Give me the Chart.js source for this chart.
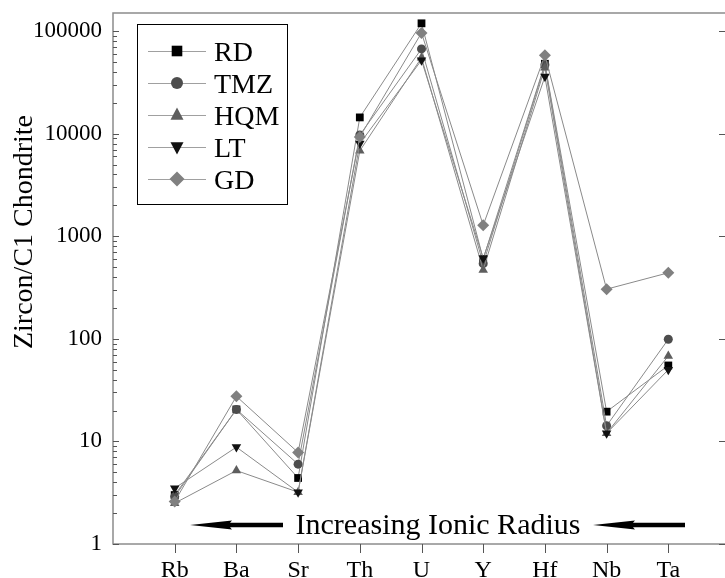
<!DOCTYPE html>
<html>
<head>
<meta charset="utf-8">
<script src="https://cdn.jsdelivr.net/npm/chart.js@4/dist/chart.umd.min.js"></script>
<style>
  html, body { margin: 0; padding: 0; background: #fff; overflow: hidden; }
  #wrap { width: 725px; height: 578px; overflow: hidden; }
</style>
</head>
<body>
<div id="wrap"><canvas id="chart" width="732" height="578"></canvas></div>
<script>
// elements, left to right
const categories = ['Rb', 'Ba', 'Sr', 'Th', 'U', 'Y', 'Hf', 'Nb', 'Ta'];

// zircon / C1 chondrite values
const rdValues  = [3.0, 20.5, 4.4, 14400, 119000, 600, 48000, 19.5, 55];
const tmzValues = [2.9, 20.5, 6.0, 9700, 67000, 540, 47000, 14.2, 99];
const hqmValues = [2.5, 5.2, 3.2, 6800, 55000, 470, 44000, 12.0, 68];
const ltValues  = [3.5, 8.8, 3.2, 8000, 52000, 610, 36000, 12.0, 50];
const gdValues  = [2.6, 27.5, 7.8, 9300, 96000, 1280, 58000, 305, 440];

const yTicks = [1, 10, 100, 1000, 10000, 100000];

const serif = "'Liberation Serif', 'DejaVu Serif', serif";
Chart.defaults.font.family = serif;
Chart.defaults.color = '#000';

const series = [
  { label: 'RD',  data: rdValues,  style: 'rect',     color: '#000',    rot: 0,   r: 5.5, order: 5 },
  { label: 'TMZ', data: tmzValues, style: 'circle',   color: '#4d4d4d', rot: 0,   r: 4.5, order: 4 },
  { label: 'HQM', data: hqmValues, style: 'triangle', color: '#5e5e5e', rot: 0,   r: 5.5, order: 3 },
  { label: 'LT',  data: ltValues,  style: 'triangle', color: '#111',    rot: 180, r: 5.5, order: 2 },
  { label: 'GD',  data: gdValues,  style: 'rectRot',  color: '#808080', rot: 0,   r: 6,   order: 1 }
];

// legend marker, same shapes as chart points
function drawMarker(ctx, style, x, y, r, color, rot) {
  ctx.save();
  ctx.translate(x, y);
  ctx.rotate(rot * Math.PI / 180);
  ctx.fillStyle = color;
  ctx.beginPath();
  if (style === 'rect') {
    const s = r * Math.SQRT1_2;
    ctx.rect(-s, -s, 2 * s, 2 * s);
  } else if (style === 'circle') {
    ctx.arc(0, 0, r, 0, Math.PI * 2);
  } else if (style === 'triangle') {
    ctx.moveTo(0, -r);
    ctx.lineTo(r * 0.866, r * 0.5 + 1);
    ctx.lineTo(-r * 0.866, r * 0.5 + 1);
  } else if (style === 'rectRot') {
    ctx.moveTo(0, -r); ctx.lineTo(r, 0); ctx.lineTo(0, r); ctx.lineTo(-r, 0);
  }
  ctx.closePath();
  ctx.fill();
  ctx.restore();
}

function arrowLeft(ctx, tip, end, y) {
  ctx.beginPath();
  ctx.moveTo(tip, y);
  ctx.lineTo(tip + 42, y - 4.5);
  ctx.lineTo(tip + 40, y - 2.2);
  ctx.lineTo(end, y - 2.2);
  ctx.lineTo(end, y + 2.2);
  ctx.lineTo(tip + 40, y + 2.2);
  ctx.lineTo(tip + 42, y + 4.5);
  ctx.closePath();
  ctx.fill();
}

const decor = {
  id: 'decor',
  afterDraw(chart) {
    const { ctx, chartArea: a, scales: { x, y } } = chart;
    ctx.save();

    // frame
    ctx.strokeStyle = '#8c8c8c';
    ctx.lineWidth = 1.5;
    ctx.strokeRect(a.left, a.top, a.right - a.left, a.bottom - a.top);

    // y ticks (inward), minor on the left only
    ctx.strokeStyle = '#555';
    ctx.lineWidth = 1;
    ctx.beginPath();
    for (let d = 0; d <= 5; d++) {
      for (let m = 1; m <= 9; m++) {
        const v = m * Math.pow(10, d);
        if (v > y.max) break;
        const py = Math.round(y.getPixelForValue(v)) + 0.5;
        const len = m === 1 ? 6 : 4;
        ctx.moveTo(a.left, py); ctx.lineTo(a.left + len, py);
        if (m === 1) { ctx.moveTo(a.right - 7, py); ctx.lineTo(a.right, py); }
      }
    }
    // x ticks (outward)
    categories.forEach((c, i) => {
      const px = Math.round(x.getPixelForValue(i)) + 0.5;
      ctx.moveTo(px, a.bottom); ctx.lineTo(px, a.bottom + 9);
    });
    ctx.stroke();

    // y title
    ctx.fillStyle = '#000';
    ctx.save();
    ctx.translate(32, 232);
    ctx.rotate(-Math.PI / 2);
    ctx.font = '28px ' + serif;
    ctx.textAlign = 'center';
    ctx.textBaseline = 'alphabetic';
    ctx.fillText('Zircon/C1 Chondrite', 0, 0);
    ctx.restore();

    // ionic radius note
    ctx.font = '30px ' + serif;
    ctx.textAlign = 'center';
    ctx.textBaseline = 'alphabetic';
    ctx.fillText('Increasing Ionic Radius', 438, 534);
    arrowLeft(ctx, 190, 283, 525);
    arrowLeft(ctx, 593, 685, 525);

    // legend
    ctx.fillStyle = '#fff';
    ctx.fillRect(137, 24, 150, 180);
    ctx.strokeStyle = '#000';
    ctx.lineWidth = 1;
    ctx.strokeRect(137.5, 24.5, 150, 180);
    ctx.font = '28px ' + serif;
    ctx.textAlign = 'left';
    series.forEach((s, i) => {
      const ly = 51 + 32 * i;
      ctx.strokeStyle = '#a0a0a0';
      ctx.beginPath();
      ctx.moveTo(148, ly + 0.5); ctx.lineTo(206, ly + 0.5);
      ctx.stroke();
      drawMarker(ctx, s.style, 177, ly, s.style === 'circle' ? 6 : 7.5, s.color, s.rot);
      ctx.fillStyle = '#000';
      ctx.fillText(s.label, 214, ly + 10);
    });

    ctx.restore();
  }
};

new Chart(document.getElementById('chart'), {
  type: 'line',
  data: {
    datasets: series.map(s => ({
      label: s.label,
      data: s.data.map((v, i) => ({ x: i, y: v })),
      borderColor: '#8a8a8a',
      borderWidth: 1,
      backgroundColor: s.color,
      pointBackgroundColor: s.color,
      pointBorderColor: s.color,
      pointBorderWidth: 0,
      pointStyle: s.style,
      pointRotation: s.rot,
      pointRadius: s.r,
      order: s.order,
      tension: 0
    }))
  },
  options: {
    responsive: false,
    animation: false,
    layout: { padding: { top: 13, right: 3, left: 0, bottom: 0 } },
    plugins: { legend: { display: false }, tooltip: { enabled: false } },
    scales: {
      x: {
        type: 'linear',
        min: -1,
        max: 8.935,
        grid: { display: false, drawTicks: false },
        border: { display: false },
        afterBuildTicks: sc => { sc.ticks = categories.map((c, i) => ({ value: i })); },
        afterFit: sc => { sc.height = 34; sc.paddingLeft = 0; sc.paddingRight = 0; },
        ticks: {
          autoSkip: false,
          maxRotation: 0,
          padding: 12,
          font: { size: 24 },
          callback: v => categories[v]
        }
      },
      y: {
        type: 'logarithmic',
        min: 1,
        max: 150000,
        grid: { display: false, drawTicks: false },
        border: { display: false },
        afterBuildTicks: sc => { sc.ticks = yTicks.map(v => ({ value: v })); },
        afterFit: sc => { sc.width = 113; sc.paddingTop = 0; sc.paddingBottom = 0; },
        ticks: {
          padding: 11,
          font: { size: 23 },
          callback: v => String(v)
        }
      }
    }
  },
  plugins: [decor]
});
</script>
</body>
</html>
